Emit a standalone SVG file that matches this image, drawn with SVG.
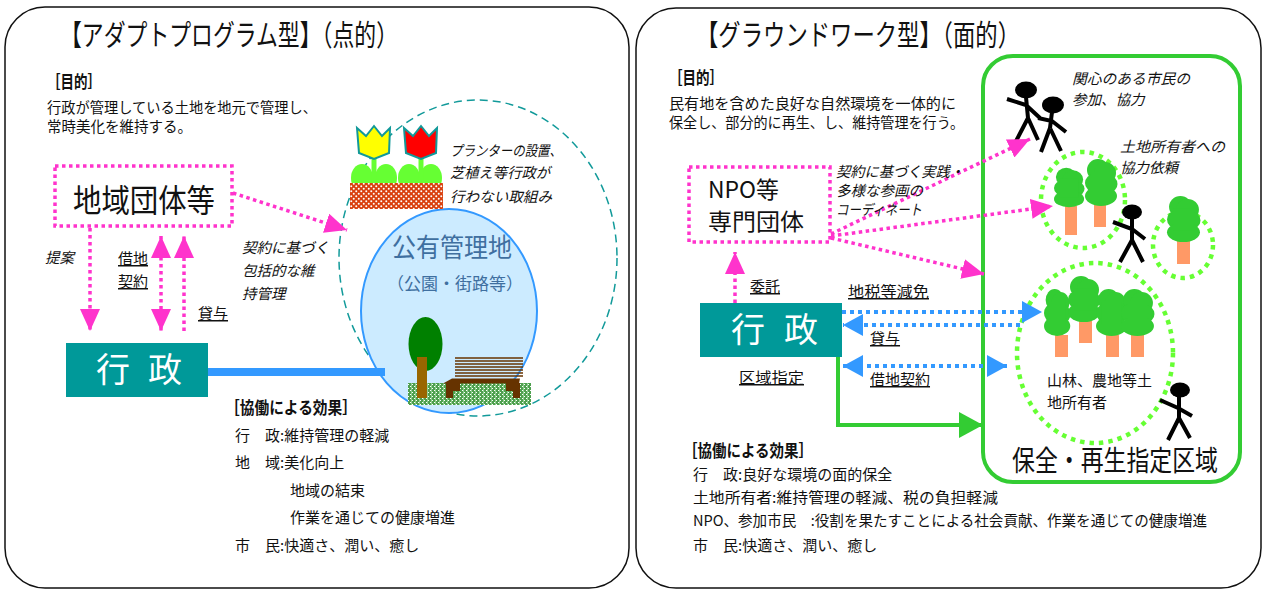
<svg xmlns="http://www.w3.org/2000/svg" width="1264" height="590" viewBox="0 0 1264 590">
  <style>
    text { font-family: "Noto Sans CJK JP", "Noto Sans", sans-serif; fill: #111; }
    .title { font-size: 29px; }
    .head { font-size: 17px; font-weight: bold; }
    .body { font-size: 14.5px; }
    .eff { font-size: 15px; }
    .lbl { font-size: 15px; text-decoration: underline; }
    .ital { font-size: 14.5px; font-style: italic; }
    .gov { font-size: 34px; fill: #fff; text-anchor: middle; }
    .panel { fill: #fff; stroke: #111; stroke-width: 1.5; }
    .pinkdot { fill: none; stroke: #FF33CC; stroke-width: 3.5; stroke-dasharray: 3.5 3.5; }
    .bluedot { fill: none; stroke: #3399FF; stroke-width: 4; stroke-dasharray: 4 4; }
    .greendot { fill: none; stroke: #66FF33; stroke-width: 4.5; stroke-dasharray: 4.5 5; }
    .stick { fill: none; stroke: #000; stroke-width: 4; stroke-linecap: butt; }
    .trunk { fill: #FF9966; }
    .leaf { fill: #66FF33; }
  </style>
  <defs>
    <marker id="ah-pink" viewBox="0 0 22 20" refX="22" refY="10" markerWidth="22" markerHeight="20" markerUnits="userSpaceOnUse" orient="auto-start-reverse">
      <path d="M0,0 L22,10 L0,20 Z" fill="#FF33CC"/>
    </marker>
    <marker id="ah-blue" viewBox="0 0 20 22" refX="20" refY="11" markerWidth="20" markerHeight="22" markerUnits="userSpaceOnUse" orient="auto-start-reverse">
      <path d="M0,0 L20,11 L0,22 Z" fill="#3399FF"/>
    </marker>
    <marker id="ah-green" viewBox="0 0 24 26" refX="24" refY="13" markerWidth="24" markerHeight="26" markerUnits="userSpaceOnUse" orient="auto">
      <path d="M0,0 L24,13 L0,26 Z" fill="#33CC33"/>
    </marker>
    <pattern id="brick" width="5" height="5" patternUnits="userSpaceOnUse">
      <rect width="5" height="5" fill="#D9400F"/>
      <circle cx="1.25" cy="1.25" r="1" fill="#fff"/>
      <circle cx="3.75" cy="3.75" r="1" fill="#fff"/>
    </pattern>
    <pattern id="grass" width="4" height="4" patternUnits="userSpaceOnUse">
      <rect width="4" height="4" fill="#4FA04F"/>
      <rect x="0" y="0" width="1" height="1" fill="#fff"/>
      <rect x="2" y="2" width="1" height="1" fill="#fff"/>
      <rect x="3" y="0" width="1" height="4" fill="#8FCF8F"/>
    </pattern>
    <!-- cloud-shaped tree canopy, 32 x 49 -->
    <g id="canopy" fill="#33CC33">
      <circle cx="13" cy="12" r="11"/>
      <circle cx="20" cy="15" r="11"/>
      <circle cx="9" cy="25" r="9"/>
      <circle cx="24" cy="26" r="8.5"/>
      <ellipse cx="16" cy="38" rx="16" ry="10"/>
      <rect x="6" y="14" width="20" height="22"/>
    </g>
  </defs>

  <!-- ===== left panel: adopt program ===== -->
  <g id="panel-adopt">
    <rect class="panel" x="5" y="7" width="624" height="581" rx="40"/>
    <text class="title" x="60" y="46" textLength="338" lengthAdjust="spacingAndGlyphs">【アダプトプログラム型】（点的）</text>
    <text class="head" x="47" y="88" textLength="54" lengthAdjust="spacingAndGlyphs">［目的］</text>
    <text class="body" x="47" y="113" textLength="270" lengthAdjust="spacingAndGlyphs">行政が管理している土地を地元で管理し、</text>
    <text class="body" x="47" y="132">常時美化を維持する。</text>
  </g>

  <g id="park-area">
    <ellipse cx="478" cy="258" rx="139" ry="158" fill="none" stroke="#129A9A" stroke-width="1.5" stroke-dasharray="8 5"/>
    <ellipse cx="449" cy="311" rx="88" ry="102" fill="#CCEBFF" stroke="#3399FF" stroke-width="2"/>
    <text x="452" y="257" text-anchor="middle" style="font-size:26px;fill:#3F6FA0" textLength="120" lengthAdjust="spacingAndGlyphs">公有管理地</text>
    <text x="455" y="290" text-anchor="middle" style="font-size:17px;fill:#3F6FA0">（公園・街路等）</text>
    <!-- tree -->
    <rect x="408" y="383" width="123" height="22" fill="url(#grass)"/>
    <ellipse cx="425.5" cy="344" rx="17" ry="27" fill="#008000"/>
    <rect x="417" y="357" width="10" height="41" fill="#996600"/>
    <!-- bench -->
    <g stroke="#663300" stroke-width="1.6">
      <line x1="455" y1="358" x2="523" y2="358"/>
      <line x1="455" y1="361" x2="523" y2="361"/>
      <line x1="455" y1="364" x2="523" y2="364"/>
      <line x1="455" y1="367" x2="523" y2="367"/>
      <line x1="455" y1="370" x2="523" y2="370"/>
      <line x1="455" y1="373" x2="523" y2="373"/>
      <line x1="455" y1="376" x2="523" y2="376"/>
    </g>
    <polygon points="452,378.5 520,378.5 519,383.5 443,383.5" fill="#663300"/>
    <polygon points="446,383 460,383 460,391 453,391 453,398 446,398" fill="#663300"/>
    <polygon points="506,383 520,383 520,398 513,398 513,391 506,391" fill="#663300"/>
  </g>

  <g id="planter">
    <ellipse class="leaf" cx="362" cy="178" rx="11" ry="14"/>
    <ellipse class="leaf" cx="386" cy="178" rx="11" ry="14"/>
    <ellipse class="leaf" cx="409" cy="178" rx="11" ry="14"/>
    <ellipse class="leaf" cx="431" cy="178" rx="11" ry="14"/>
    <line x1="374" y1="156" x2="374" y2="184" stroke="#66FF33" stroke-width="5"/>
    <line x1="421" y1="156" x2="421" y2="184" stroke="#66FF33" stroke-width="5"/>
    <path d="M357,128 L366,136 L374,126 L382,136 L390,128 L389,153 L374,159 L359,153 Z" fill="#FFFF00" stroke="#119999" stroke-width="2" stroke-linejoin="miter"/>
    <path d="M404,128 L413,136 L421,126 L429,136 L437,128 L436,153 L421,159 L406,153 Z" fill="#FF0000" stroke="#119999" stroke-width="2" stroke-linejoin="miter"/>
    <rect x="350" y="183" width="93" height="26" fill="url(#brick)"/>
    <text class="ital" x="450" y="156" textLength="112" lengthAdjust="spacingAndGlyphs">プランターの設置、</text>
    <text class="ital" x="450" y="178" textLength="100" lengthAdjust="spacingAndGlyphs">芝植え等行政が</text>
    <text class="ital" x="450" y="202" textLength="102" lengthAdjust="spacingAndGlyphs">行わない取組み</text>
  </g>

  <g id="node-community">
    <rect class="pinkdot" x="55" y="166" width="177" height="60"/>
    <text x="73" y="212" style="font-size:32px" textLength="142" lengthAdjust="spacingAndGlyphs">地域団体等</text>
  </g>

  <g id="node-gov-left">
    <rect x="66" y="343" width="142" height="54" fill="#009999"/>
    <text class="gov" x="113" y="382">行</text>
    <text class="gov" x="165" y="382">政</text>
  </g>

  <g id="effects-left">
    <text class="head" x="225" y="414" textLength="132" lengthAdjust="spacingAndGlyphs">［協働による効果］</text>
    <text class="eff" x="235" y="441">行　政:維持管理の軽減</text>
    <text class="eff" x="235" y="468">地　域:美化向上</text>
    <text class="eff" x="290" y="496">地域の結束</text>
    <text class="eff" x="290" y="523">作業を通じての健康増進</text>
    <text class="eff" x="235" y="551">市　民:快適さ、潤い、癒し</text>
  </g>

  <g id="connectors-left">
    <line class="pinkdot" x1="233" y1="193" x2="347" y2="230" marker-end="url(#ah-pink)"/>
    <line class="pinkdot" x1="90" y1="228" x2="90" y2="331" marker-end="url(#ah-pink)"/>
    <line class="pinkdot" x1="161" y1="236" x2="161" y2="331" marker-start="url(#ah-pink)" marker-end="url(#ah-pink)"/>
    <line class="pinkdot" x1="184" y1="331" x2="184" y2="236" marker-end="url(#ah-pink)"/>
    <line x1="208" y1="372" x2="385" y2="372" stroke="#3399FF" stroke-width="8"/>
    <text class="ital" x="45" y="263">提案</text>
    <text class="lbl" x="118" y="264">借地</text>
    <text class="lbl" x="118" y="287">契約</text>
    <text class="lbl" x="198" y="319">貸与</text>
    <text class="ital" x="242" y="253">契約に基づく</text>
    <text class="ital" x="242" y="276">包括的な維</text>
    <text class="ital" x="242" y="299">持管理</text>
  </g>

  <!-- ===== right panel: groundwork ===== -->
  <g id="panel-groundwork">
    <rect class="panel" x="636" y="8" width="625" height="580" rx="40"/>
    <text class="title" x="696" y="46" textLength="324" lengthAdjust="spacingAndGlyphs">【グラウンドワーク型】（面的）</text>
    <text class="head" x="669" y="84" textLength="54" lengthAdjust="spacingAndGlyphs">［目的］</text>
    <text class="body" x="669" y="109" textLength="287" lengthAdjust="spacingAndGlyphs">民有地を含めた良好な自然環境を一体的に</text>
    <text class="body" x="669" y="128" textLength="295" lengthAdjust="spacingAndGlyphs">保全し、部分的に再生、し、維持管理を行う。</text>
  </g>

  <g id="zone">
    <rect x="983" y="56" width="257" height="426" rx="30" fill="none" stroke="#33CC33" stroke-width="4"/>
    <text x="1012" y="471" style="font-size:28px" textLength="206" lengthAdjust="spacingAndGlyphs">保全・再生指定区域</text>
    <text class="ital" x="1072" y="84" textLength="118" lengthAdjust="spacingAndGlyphs">関心のある市民の</text>
    <text class="ital" x="1072" y="105">参加、協力</text>
    <text class="ital" x="1120" y="152" textLength="105" lengthAdjust="spacingAndGlyphs">土地所有者への</text>
    <text class="ital" x="1120" y="173">協力依頼</text>
  </g>

  <g id="grove-small">
    <ellipse class="greendot" cx="1083" cy="200" rx="42" ry="48"/>
    <rect class="trunk" x="1065" y="206" width="12" height="29"/>
    <rect class="trunk" x="1094" y="205" width="12" height="22"/>
    <use href="#canopy" transform="translate(1054,167) scale(0.94,0.84)"/>
    <use href="#canopy" transform="translate(1085,158) scale(1,1)"/>
  </g>

  <g id="grove-single">
    <ellipse class="greendot" cx="1183" cy="245" rx="30" ry="33"/>
    <rect class="trunk" x="1177" y="241" width="13" height="23"/>
    <use href="#canopy" transform="translate(1167,195) scale(1.03,0.98)"/>
  </g>

  <g id="grove-owners">
    <ellipse class="greendot" cx="1095" cy="353" rx="78" ry="90"/>
    <rect class="trunk" x="1055" y="335" width="13" height="22"/>
    <rect class="trunk" x="1079" y="321" width="13" height="22"/>
    <rect class="trunk" x="1106" y="335" width="13" height="22"/>
    <rect class="trunk" x="1131" y="335" width="13" height="22"/>
    <use href="#canopy" transform="translate(1044,288) scale(0.82,1)"/>
    <use href="#canopy" transform="translate(1068,275) scale(1,0.98)"/>
    <use href="#canopy" transform="translate(1096,288) scale(0.97,1)"/>
    <use href="#canopy" transform="translate(1121,288) scale(1.03,1)"/>
    <text x="1047" y="386" style="font-size:15px">山林、農地等土</text>
    <text x="1047" y="408" style="font-size:15px">地所有者</text>
  </g>

  <g id="citizens">
    <ellipse cx="1026" cy="90" rx="11" ry="8.5"/>
    <path class="stick" d="M1026,97 L1028,118 M1028,118 L1015,143 M1028,118 L1038,140 M1007,99 L1026,105 L1040,118"/>
    <ellipse cx="1053" cy="105" rx="11" ry="8.5"/>
    <path class="stick" d="M1052,112 L1050,128 M1050,128 L1041,152 M1050,128 L1061,151 M1038,118 L1052,121 L1066,132"/>
    <ellipse cx="1132" cy="212" rx="10" ry="7.5"/>
    <path class="stick" d="M1132,218 L1132,240 M1132,240 L1120,262 M1132,240 L1143,262 M1113,222 L1132,229 L1145,239"/>
  </g>

  <g id="owner-figure">
    <ellipse cx="1180" cy="390" rx="10" ry="7.5"/>
    <path class="stick" d="M1179,396 L1179,418 M1179,418 L1168,440 M1179,418 L1190,438 M1160,400 L1178,408 L1192,416"/>
  </g>

  <g id="node-npo">
    <rect class="pinkdot" x="689" y="167" width="141" height="75"/>
    <text x="708" y="198" style="font-size:23px" textLength="71" lengthAdjust="spacingAndGlyphs">NPO等</text>
    <text x="708" y="230" style="font-size:23px" textLength="96" lengthAdjust="spacingAndGlyphs">専門団体</text>
  </g>

  <g id="node-gov-right">
    <rect x="700" y="303" width="142" height="54" fill="#009999"/>
    <text class="gov" x="748" y="342">行</text>
    <text class="gov" x="801" y="342">政</text>
  </g>

  <g id="effects-right">
    <text class="head" x="683" y="457" textLength="130" lengthAdjust="spacingAndGlyphs">［協働による効果］</text>
    <text class="eff" x="693" y="480">行　政:良好な環境の面的保全</text>
    <text class="eff" x="693" y="503" textLength="305" lengthAdjust="spacingAndGlyphs">土地所有者:維持管理の軽減、税の負担軽減</text>
    <text class="eff" x="693" y="526" textLength="514" lengthAdjust="spacingAndGlyphs">NPO、参加市民　:役割を果たすことによる社会貢献、作業を通じての健康増進</text>
    <text class="eff" x="693" y="551">市　民:快適さ、潤い、癒し</text>
  </g>

  <g id="connectors-right">
    <line class="pinkdot" x1="831" y1="234" x2="1030" y2="139" marker-end="url(#ah-pink)"/>
    <line class="pinkdot" x1="831" y1="236" x2="1053" y2="206" marker-end="url(#ah-pink)"/>
    <line class="pinkdot" x1="831" y1="238" x2="984" y2="274" marker-end="url(#ah-pink)"/>
    <line class="pinkdot" x1="735" y1="303" x2="735" y2="252" marker-end="url(#ah-pink)"/>
    <line class="bluedot" x1="842" y1="312" x2="1042" y2="312" marker-end="url(#ah-blue)"/>
    <line class="bluedot" x1="1020" y1="325" x2="843" y2="325" marker-end="url(#ah-blue)"/>
    <line class="bluedot" x1="843" y1="366" x2="1007" y2="366" marker-start="url(#ah-blue)" marker-end="url(#ah-blue)"/>
    <path d="M838,357 V425 H983" fill="none" stroke="#33CC33" stroke-width="4" marker-end="url(#ah-green)"/>
    <text class="ital" x="836" y="177" textLength="128" lengthAdjust="spacingAndGlyphs">契約に基づく実践・</text>
    <text class="ital" x="836" y="196">多様な参画の</text>
    <text class="ital" x="836" y="215" textLength="86" lengthAdjust="spacingAndGlyphs">コーディネート</text>
    <text class="lbl" x="750" y="292">委託</text>
    <text class="lbl" x="848" y="297" textLength="81" lengthAdjust="spacingAndGlyphs">地税等減免</text>
    <text class="lbl" x="870" y="344">貸与</text>
    <text class="lbl" x="870" y="385">借地契約</text>
    <text class="lbl" x="739" y="383" textLength="65" lengthAdjust="spacingAndGlyphs">区域指定</text>
  </g>
</svg>
